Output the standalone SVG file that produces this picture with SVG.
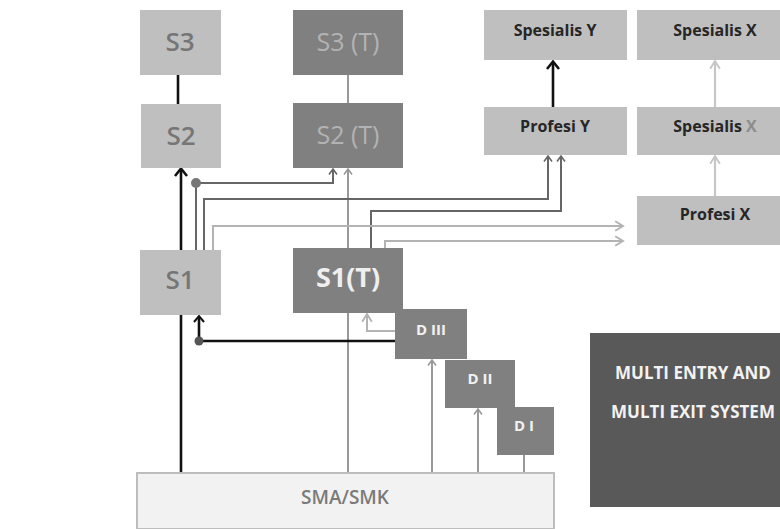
<svg xmlns="http://www.w3.org/2000/svg" width="780" height="529" viewBox="0 0 780 529">
<style>
  text { font-family: "Open Sans", "Liberation Sans", sans-serif; text-anchor: middle; dominant-baseline: central; }
  .lt { fill: #bfbfbf; }
  .dk { fill: #808080; }
  .tl { fill: #767676; font-size: 26px; font-weight: 600; }
  .tt { fill: #b3b3b3; font-size: 25px; font-weight: 400; }
  .tw { fill: #efefef; font-size: 27px; font-weight: 700; }
  .td { fill: #f2f2f2; font-size: 15px; font-weight: 700; }
  .ts { fill: #262626; font-size: 16px; font-weight: 700; }
  .tm { fill: #f2f2f2; font-size: 17px; font-weight: 700; }
  .c { fill: none; stroke-linejoin: miter; }
  .k { stroke: #111111; stroke-width: 2.6; }
  .g { stroke: #666666; stroke-width: 2; }
  .m { stroke: #999999; stroke-width: 2; }
  .l { stroke: #b3b3b3; stroke-width: 2; }
  .p { stroke: #c6c6c6; stroke-width: 2.2; }
</style>
<defs>
  <marker id="ag" viewBox="0 0 10 10" refX="8.5" refY="5" markerWidth="10" markerHeight="10" markerUnits="userSpaceOnUse" orient="auto">
    <path d="M3,1 L8.5,5 L3,9" fill="none" stroke="#666666" stroke-width="1.6"/>
  </marker>
  <marker id="am" viewBox="0 0 10 10" refX="8.5" refY="5" markerWidth="10" markerHeight="10" markerUnits="userSpaceOnUse" orient="auto">
    <path d="M3,1 L8.5,5 L3,9" fill="none" stroke="#999999" stroke-width="1.6"/>
  </marker>
  <marker id="al" viewBox="0 0 10 10" refX="8.5" refY="5" markerWidth="12" markerHeight="12" markerUnits="userSpaceOnUse" orient="auto">
    <path d="M2,1 L8.5,5 L2,9" fill="none" stroke="#b3b3b3" stroke-width="1.6"/>
  </marker>
  <marker id="ap" viewBox="0 0 10 10" refX="8.5" refY="5" markerWidth="12" markerHeight="12" markerUnits="userSpaceOnUse" orient="auto">
    <path d="M2,1 L8.5,5 L2,9" fill="none" stroke="#c6c6c6" stroke-width="1.6"/>
  </marker>
</defs>

<g id="connectors">
  <line class="c k" x1="178" y1="75" x2="178" y2="104"/>
  <line class="c m" x1="348" y1="75" x2="348" y2="103"/>
  <path class="c k" d="M181,473 V170"/>
  <path d="M175,176 L181,168.5 L187,176" fill="none" stroke="#111111" stroke-width="2.6"/>
  <path class="c k" d="M553,107 V62"/>
  <path d="M547,69 L553,61.5 L559,69" fill="none" stroke="#111111" stroke-width="2.6"/>
  <path class="c m" d="M348,473 V169" marker-end="url(#am)"/>
  <path class="c g" d="M196,250 V183 H333 V169" marker-end="url(#ag)"/>
  <path class="c g" d="M204,250 V199 H548 V156" marker-end="url(#ag)"/>
  <path class="c g" d="M371,248 V211 H561 V156" marker-end="url(#ag)"/>
  <path class="c l" d="M213,250 V226 H623" marker-end="url(#al)"/>
  <path class="c l" d="M385,248 V241 H623" marker-end="url(#al)"/>
  <path class="c l" d="M395,331 H367 V314" marker-end="url(#al)"/>
  <path class="c k" d="M395,341 H199 V317"/>
  <path d="M194,322 L199,316 L204,322" fill="none" stroke="#111111" stroke-width="2"/>
  <circle cx="199" cy="341" r="4.5" fill="#555555"/>
  <circle cx="196" cy="183" r="5" fill="#777777"/>
  <path class="c m" d="M432,473 V360" marker-end="url(#am)"/>
  <path class="c m" d="M478,473 V409" marker-end="url(#am)"/>
  <path class="c m" d="M524,473 V455"/>
  <path class="c p" d="M715,107 V61" marker-end="url(#ap)"/>
  <path class="c p" d="M715,196 V156" marker-end="url(#ap)"/>
</g>

<g id="S3"><rect class="lt" x="140" y="10" width="81" height="65"/><text class="tl" x="180" y="41">S3</text></g>
<g id="S2"><rect class="lt" x="141" y="104" width="80" height="64"/><text class="tl" x="181" y="135">S2</text></g>
<g id="S1"><rect class="lt" x="140" y="250" width="81" height="65"/><text class="tl" x="180" y="279">S1</text></g>
<g id="S3T"><rect class="dk" x="293" y="10" width="110" height="65"/><text class="tt" x="348" y="41">S3 (T)</text></g>
<g id="S2T"><rect class="dk" x="293" y="103" width="110" height="65"/><text class="tt" x="348" y="134">S2 (T)</text></g>
<g id="S1T"><rect class="dk" x="293" y="248" width="110" height="65"/><text class="tw" x="348" y="276">S1(T)</text></g>
<g id="DIII"><rect class="dk" x="395" y="309" width="72" height="50"/><text class="td" x="431" y="329">D III</text></g>
<g id="DII"><rect class="dk" x="445" y="360" width="70" height="48"/><text class="td" x="480" y="378">D II</text></g>
<g id="DI"><rect class="dk" x="497" y="407" width="57" height="48"/><text class="td" x="524" y="425">D I</text></g>
<g id="SMA"><rect x="137" y="473" width="417" height="56" fill="#f2f2f2" stroke="#bdbdbd" stroke-width="2"/><text x="345" y="497" style="fill:#7a7a7a;font-size:19px;font-weight:600">SMA/SMK</text></g>
<g id="SpesialisY"><rect class="lt" x="484" y="10" width="143" height="50"/><text class="ts" x="555" y="30">Spesialis Y</text></g>
<g id="SpesialisX"><rect class="lt" x="637" y="10" width="143" height="50"/><text class="ts" x="715" y="30">Spesialis X</text></g>
<g id="ProfesiY"><rect class="lt" x="484" y="107" width="143" height="48"/><text class="ts" x="555" y="126">Profesi Y</text></g>
<g id="SpesialisX2"><rect class="lt" x="637" y="107" width="143" height="48"/><text class="ts" x="715" y="126">Spesialis <tspan fill="#8c8c8c">X</tspan></text></g>
<g id="ProfesiX"><rect class="lt" x="637" y="196" width="143" height="49"/><text class="ts" x="715" y="214">Profesi X</text></g>
<g id="MultiSystem"><rect x="590" y="333" width="190" height="174" fill="#595959"/><text class="tm" x="693" y="372">MULTI ENTRY AND</text><text class="tm" x="693" y="411">MULTI EXIT SYSTEM</text></g>
</svg>
